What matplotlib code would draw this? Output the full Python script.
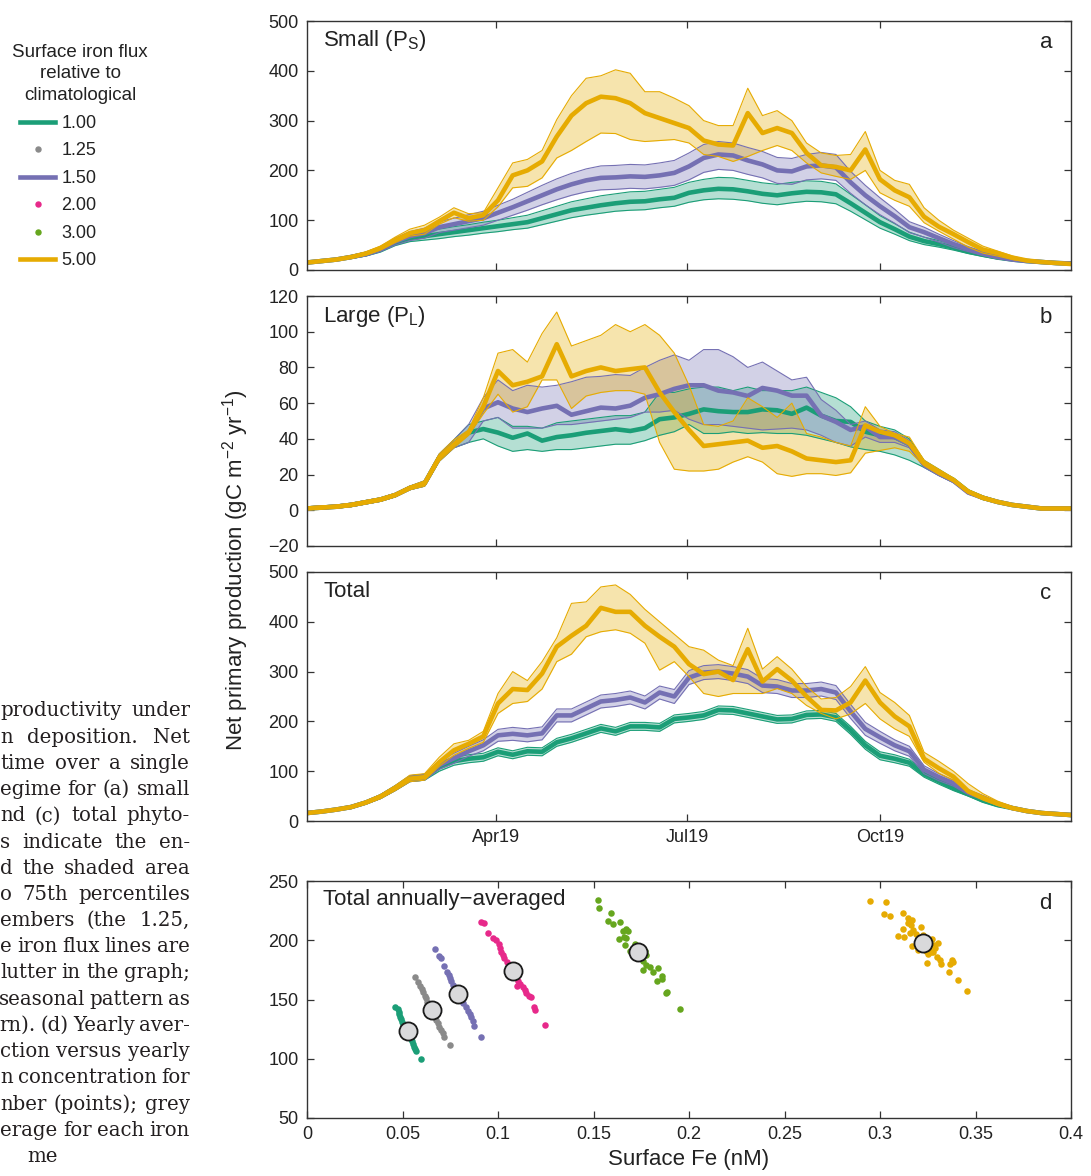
#!/usr/bin/env python
# -*- coding: utf-8 -*-
"""
Net primary production under different surface iron flux scenarios.
"""

import matplotlib
matplotlib.use('Agg')
from matplotlib import pyplot as plt
from matplotlib.lines import Line2D
import matplotlib.dates as mdates
import pandas as pd

plt.rcParams['font.family'] = ['Liberation Sans', 'DejaVu Sans']
plt.rcParams['mathtext.fontset'] = 'custom'
plt.rcParams['mathtext.rm'] = 'Liberation Sans'
plt.rcParams['axes.unicode_minus'] = True

# ---------------------------------------------------------------- data
# weekly samples over 2019 (53 points, 1 Jan -> 31 Dec)
DATES = pd.date_range('2019-01-01', periods=53, freq='7D')

# (a) small phytoplankton, gC m-2 yr-1
A_GREEN_MED = [15, 18, 21, 26, 32, 41, 55, 64, 68, 72, 76, 80, 84, 88, 92, 96, 104, 112, 120, 125, 130, 134, 137, 138, 142, 145,
               155, 160, 163, 162, 158, 153, 150, 154, 157, 156, 152, 134, 115, 96, 82, 67, 58, 52, 45, 37, 31, 25, 21, 18, 16, 14, 13]
A_GREEN_LO = [13, 16, 19, 23, 28, 36, 49, 57, 60, 63, 67, 70, 74, 77, 81, 84, 91, 98, 105, 110, 114, 118, 120, 121, 125, 128,
              136, 141, 143, 142, 139, 134, 131, 135, 138, 137, 133, 118, 101, 84, 72, 59, 51, 46, 40, 33, 27, 22, 19, 16, 14, 13, 12]
A_GREEN_HI = [17, 20, 23, 29, 36, 46, 62, 72, 77, 82, 87, 91, 96, 100, 105, 110, 119, 128, 137, 143, 149, 153, 157, 158, 162, 166,
              176, 182, 186, 185, 180, 175, 172, 176, 179, 178, 173, 152, 131, 109, 93, 76, 66, 59, 51, 42, 35, 28, 23, 20, 17, 15, 14]
A_PURPLE_MED = [15, 18, 21, 26, 32, 42, 57, 68, 74, 86, 92, 98, 104, 115, 126, 138, 150, 162, 172, 180, 185, 186, 188, 187, 190, 195,
                208, 225, 232, 230, 220, 212, 200, 198, 208, 210, 206, 176, 150, 128, 108, 86, 76, 64, 52, 42, 33, 26, 21, 18, 16, 14, 13]
A_PURPLE_LO = [13, 16, 19, 23, 28, 37, 50, 59, 64, 75, 80, 85, 90, 100, 110, 120, 131, 141, 150, 157, 161, 162, 164, 163, 166, 170,
               181, 196, 202, 200, 192, 185, 174, 172, 181, 183, 180, 154, 131, 111, 94, 75, 66, 56, 45, 37, 29, 23, 19, 16, 14, 13, 12]
A_PURPLE_HI = [17, 20, 23, 29, 36, 47, 64, 77, 84, 97, 104, 111, 118, 130, 142, 156, 170, 183, 194, 203, 209, 210, 212, 211, 215, 220,
               235, 252, 258, 255, 246, 238, 226, 224, 232, 236, 232, 198, 170, 145, 122, 97, 86, 72, 59, 47, 37, 29, 23, 20, 17, 15, 14]
A_YELLOW_MED = [15, 18, 21, 26, 33, 44, 60, 74, 80, 98, 115, 104, 110, 140, 190, 200, 218, 268, 310, 335, 348, 345, 335, 315, 305, 295,
                285, 260, 252, 250, 315, 275, 285, 275, 235, 210, 207, 200, 242, 182, 160, 146, 107, 87, 72, 56, 41, 34, 25, 19, 16, 14, 12]
A_YELLOW_LO = [14, 17, 20, 24, 30, 40, 55, 68, 72, 92, 105, 98, 100, 127, 165, 168, 185, 225, 240, 258, 275, 274, 262, 258, 260, 262,
               255, 232, 228, 218, 228, 240, 250, 240, 215, 195, 188, 182, 200, 155, 140, 128, 95, 78, 62, 46, 34, 28, 21, 17, 14, 13, 11]
A_YELLOW_HI = [16, 19, 22, 28, 36, 48, 66, 82, 90, 106, 125, 113, 115, 165, 215, 222, 240, 302, 350, 385, 390, 402, 395, 358, 358, 345,
               330, 300, 290, 290, 365, 310, 320, 300, 255, 235, 230, 232, 278, 200, 180, 172, 125, 100, 80, 64, 48, 38, 28, 21, 17, 15, 13]

# (b) large phytoplankton
B_GREEN_MED = [1, 1.5, 2, 3, 4.5, 6, 8.5, 12.5, 15, 29.5, 37, 43.5, 45.5, 43.5, 40.6, 43, 39, 41, 42, 43.4, 44.4, 45.4, 44.4, 46, 51, 52,
               54, 56.5, 55.5, 55, 55, 56.5, 56, 54, 57.5, 53, 50, 49.5, 44, 42, 41, 37, 26, 21, 17, 10.5, 7, 4.7, 3, 2, 1, 1, 1]
B_GREEN_LO = [0.3, 0.8, 1.2, 2, 3.5, 5, 7.5, 11.5, 13.5, 27.5, 35, 38, 40, 36, 33, 34, 33, 34, 34, 35, 36, 37, 37, 39, 42, 44,
              48, 43, 43, 44, 43, 43.5, 43, 43, 42, 40, 38, 35.5, 34, 33, 31, 28, 24, 19.5, 15.5, 9.5, 6, 4, 2.5, 1.5, 0.5, 0.5, 0.5]
B_GREEN_HI = [2, 2.5, 3, 4, 5.5, 7, 9.5, 13.5, 16.5, 31.5, 39.5, 48, 50, 52, 47, 47, 46, 49, 50, 51, 52, 53, 53, 55, 66, 66,
              68, 69, 69, 67, 69, 67, 67, 67, 69, 66, 63, 58, 50, 47, 45, 40, 28, 23, 18, 11.5, 8, 5.5, 3.5, 2.5, 1.5, 1.5, 1.5]
B_PURPLE_MED = [1, 1.5, 2, 3, 4.5, 6, 8.5, 12.5, 15, 29.5, 37, 43.5, 57, 60.5, 57, 55, 57, 58.5, 53.5, 55.5, 57.5, 57, 58.6, 63, 65, 68,
                70, 70, 67, 66, 64, 68.5, 67, 64.2, 64.2, 53, 49.5, 45, 47, 41, 41, 37, 25.5, 20.5, 16.5, 10, 7, 4.7, 3, 2, 1, 1, 1]
B_PURPLE_LO = [0.3, 0.8, 1.2, 2, 3.5, 5, 7.5, 11.5, 13.5, 27.5, 35, 38, 50, 52, 46, 46, 46, 48, 48, 49, 50, 51, 52, 55, 55, 56,
               51, 48, 48, 47, 46, 45, 45.5, 46, 45, 42, 38, 36, 41, 38, 38, 35, 24, 19.5, 15.5, 9, 6.5, 4, 2.5, 1.5, 0.5, 0.5, 0.5]
B_PURPLE_HI = [2, 2.5, 3, 4, 5.5, 7, 9.5, 13.5, 16.5, 31.5, 39.5, 48, 63, 73, 67, 70, 69, 70, 72, 74.5, 75, 76, 75.5, 80, 84, 87,
               84, 90, 90, 86, 80, 83, 78, 73, 74.5, 62, 56, 48, 50, 45, 44, 39, 27, 22, 17.5, 11, 7.5, 5, 3.5, 2.5, 1.5, 1.5, 1.5]
B_YELLOW_MED = [1, 1.5, 2, 3, 4.5, 6, 8.5, 12.5, 15, 29.5, 37, 43.5, 58, 78, 70, 72, 75, 93, 75, 78, 80, 78, 79, 80, 66, 55,
                45, 36, 37, 38, 39, 35, 36, 33, 29, 28, 27, 28, 47.5, 44, 42, 37.5, 26.5, 21.5, 17, 10.5, 7, 4.7, 3, 2, 1, 1, 1]
B_YELLOW_LO = [0.3, 0.8, 1.2, 2, 3.5, 5, 7.5, 11.5, 13.5, 27.5, 35, 42, 54, 65, 55, 58, 73, 73, 57, 64, 66, 67, 67, 65, 38, 23,
               22, 22, 23, 27, 30, 27, 20.5, 19, 20.5, 20.5, 19.5, 21, 32, 33.5, 35, 33, 25, 20, 16, 9.5, 6, 4, 2.5, 1.5, 0.5, 0.5, 0.5]
B_YELLOW_HI = [2, 2.5, 3, 4, 5.5, 7, 9.5, 13.5, 16.5, 31.5, 39.5, 45, 63, 88, 90, 83, 99, 111, 92, 95, 98, 104, 100, 104, 98, 88,
               70, 48, 47, 50, 63, 58, 52, 60, 43, 41, 38, 36, 58, 47, 43, 41, 28, 23, 18, 11.5, 8, 5.5, 3.5, 2.5, 1.5, 1.5, 1.5]

# (c) total
C_GREEN_MED = [16, 19, 23, 28, 37, 49, 66, 85, 88, 108, 120, 125, 128, 139, 133, 140, 139, 158, 166, 176, 186, 180, 190, 190, 188, 205,
               208, 212, 223, 222, 216, 210, 204, 205, 213, 214, 208, 182, 152, 131, 125, 117, 94, 80, 66, 54, 41, 32, 26, 20, 16, 14, 12]
C_GREEN_LO = [14, 17, 21, 25, 34, 45, 61, 79, 82, 100, 112, 117, 120, 131, 125, 132, 131, 150, 158, 168, 178, 172, 182, 182, 180, 197,
              200, 204, 215, 214, 208, 202, 196, 197, 205, 206, 200, 174, 144, 123, 117, 110, 88, 74, 61, 50, 38, 29, 24, 18, 14, 13, 11]
C_GREEN_HI = [18, 21, 25, 31, 40, 53, 71, 91, 94, 116, 128, 133, 136, 147, 141, 148, 147, 166, 174, 184, 194, 188, 198, 198, 196, 213,
              216, 220, 231, 230, 224, 218, 212, 213, 221, 222, 216, 190, 160, 139, 133, 124, 100, 86, 71, 58, 44, 35, 28, 22, 18, 15, 13]
C_PURPLE_MED = [16, 19, 23, 28, 37, 49, 66, 85, 88, 112, 126, 140, 152, 172, 175, 172, 176, 212, 212, 226, 240, 243, 248, 238, 258, 250,
                288, 298, 300, 296, 290, 272, 270, 262, 262, 265, 258, 220, 185, 168, 152, 140, 103, 88, 76, 58, 47, 35, 26, 20, 16, 14, 12]
C_PURPLE_LO = [14, 17, 21, 25, 34, 45, 61, 79, 82, 104, 116, 130, 141, 160, 162, 159, 163, 199, 199, 213, 227, 230, 235, 225, 245, 236,
               274, 284, 286, 282, 276, 258, 256, 248, 248, 251, 244, 206, 172, 156, 141, 130, 95, 81, 70, 53, 43, 32, 23, 18, 14, 13, 11]
C_PURPLE_HI = [18, 21, 25, 31, 40, 53, 71, 91, 94, 120, 136, 150, 163, 184, 188, 185, 189, 225, 225, 239, 253, 256, 261, 251, 271, 264,
               302, 312, 314, 310, 304, 286, 284, 276, 276, 279, 272, 234, 198, 180, 163, 150, 111, 95, 82, 63, 51, 38, 29, 22, 18, 15, 13]
C_YELLOW_MED = [16, 19, 23, 28, 37, 49, 66, 85, 88, 118, 142, 155, 170, 236, 265, 263, 296, 350, 372, 392, 428, 420, 420, 392, 370, 350,
                315, 295, 300, 283, 345, 280, 305, 282, 250, 223, 222, 238, 282, 238, 210, 190, 125, 106, 89, 60, 47, 35, 26, 20, 16, 14, 12]
C_YELLOW_LO = [15, 18, 22, 26, 34, 45, 61, 79, 82, 110, 132, 146, 158, 216, 236, 240, 265, 320, 335, 370, 380, 384, 377, 357, 303, 320,
               290, 256, 250, 256, 256, 256, 266, 256, 232, 216, 205, 215, 236, 205, 185, 170, 118, 96, 82, 56, 42, 31, 23, 18, 15, 13, 11]
C_YELLOW_HI = [17, 20, 24, 30, 40, 53, 71, 92, 95, 128, 155, 162, 180, 256, 300, 282, 320, 368, 437, 440, 470, 474, 455, 425, 400, 375,
               350, 343, 323, 312, 387, 305, 330, 305, 270, 245, 248, 270, 310, 258, 238, 212, 138, 120, 100, 75, 55, 40, 29, 22, 17, 15, 13]

# (d) annual mean surface Fe (nM) vs annual mean NPP, one point per ensemble member
FE_100 = [0.0463, 0.0475, 0.0480, 0.0484, 0.0489, 0.0493, 0.0496, 0.0501, 0.0506, 0.0511,
          0.0519, 0.0529, 0.0540, 0.0547, 0.0552, 0.0557, 0.0562, 0.0568, 0.0571, 0.0597]
NPP_100 = [143.9, 142.0, 139.7, 137.8, 135.5, 133.3, 131.3, 129.3, 127.1, 125.4,
           123.1, 120.9, 118.6, 116.4, 114.7, 112.4, 110.2, 108.0, 106.3, 99.5]
FE_125 = [0.0566, 0.0582, 0.0592, 0.0601, 0.0606, 0.0616, 0.0624, 0.0629, 0.0637,
          0.0658, 0.0667, 0.0676, 0.0685, 0.0693, 0.0704, 0.0711, 0.0719, 0.0749]
NPP_125 = [169.2, 164.5, 161.4, 158.9, 156.6, 153.2, 151.0, 148.2, 144.5,
           139.7, 136.1, 132.7, 129.9, 127.1, 124.3, 121.5, 118.6, 111.4]
FE_150 = [0.0669, 0.0690, 0.0699, 0.0716, 0.0734, 0.0741, 0.0749, 0.0755, 0.0767, 0.0777,
          0.0798, 0.0807, 0.0816, 0.0830, 0.0842, 0.0851, 0.0859, 0.0868, 0.0875, 0.0912]
NPP_150 = [192.6, 187.0, 184.7, 178.3, 173.5, 170.7, 167.9, 165.9, 162.2, 159.4,
           153.8, 149.6, 146.8, 143.9, 140.6, 137.8, 135.0, 132.1, 127.9, 118.4]
FE_200 = [0.0912, 0.0929, 0.0947, 0.0973, 0.0990, 0.1004, 0.1011, 0.1018, 0.1025, 0.1034,
          0.1046, 0.1064, 0.1078, 0.1092, 0.1104, 0.1113, 0.1130, 0.1140, 0.1148, 0.1160,
          0.1174, 0.1191, 0.1196, 0.1245, 0.1098]
NPP_200 = [215.1, 214.8, 205.8, 201.6, 200.2, 196.6, 193.2, 190.4, 187.6, 184.7,
           181.9, 178.3, 174.9, 169.2, 165.9, 163.1, 160.8, 158.0, 155.8, 153.0,
           151.8, 143.4, 141.1, 128.8, 161.4]
FE_300 = [0.1523, 0.1528, 0.1593, 0.1577, 0.1600, 0.1638, 0.1654, 0.1672, 0.1680, 0.1659,
          0.1672, 0.1633, 0.1663, 0.1715, 0.1724, 0.1693, 0.1741, 0.1768, 0.1773, 0.1759,
          0.1773, 0.1797, 0.1837, 0.1759, 0.1811, 0.1860, 0.1860, 0.1832, 0.1884, 0.1881, 0.1951]
NPP_300 = [234.0, 226.9, 223.0, 216.2, 213.4, 215.4, 208.1, 209.5, 207.8, 203.0,
           202.2, 201.1, 196.0, 196.6, 194.6, 190.9, 191.8, 190.9, 187.6, 182.5,
           179.1, 177.4, 176.3, 174.9, 172.9, 170.1, 167.0, 165.4, 156.6, 155.8, 142.0]
FE_500 = [0.2950, 0.3034, 0.3020, 0.3051, 0.3121, 0.3147, 0.3165, 0.3147, 0.3160, 0.3121,
          0.3174, 0.3217, 0.3156, 0.3186, 0.3095, 0.3128, 0.3226, 0.3270, 0.3305, 0.3282,
          0.3168, 0.3200, 0.3240, 0.3252, 0.3266, 0.3287, 0.3296, 0.3313, 0.3319, 0.3244,
          0.3362, 0.3375, 0.3380, 0.3366, 0.3409, 0.3457, 0.3256, 0.3278]
NPP_500 = [233.4, 232.6, 222.2, 220.5, 222.7, 219.1, 217.1, 214.8, 212.9, 209.5,
           208.6, 210.9, 206.4, 205.0, 203.6, 202.5, 204.4, 201.1, 197.4, 196.0,
           195.1, 191.8, 191.2, 188.1, 189.8, 193.2, 186.2, 183.3, 179.7, 181.1,
           172.9, 183.3, 181.4, 180.2, 166.2, 157.4, 194.6, 190.4]
MEAN_FE = [0.0527, 0.0655, 0.0791, 0.1078, 0.1733, 0.3226]
MEAN_NPP = [123.7, 140.9, 154.6, 174.1, 189.8, 198.0]

FLUX_LABELS = ['1.00', '1.25', '1.50', '2.00', '3.00', '5.00']

CAPTION = ['productivity under', 'n deposition. Net', 'time over a single', 'egime for (a) small',
           'nd (c) total phyto-', 's indicate the en-', 'd the shaded area', 'o 75th percentiles',
           'embers (the 1.25,', 'e iron flux lines are', 'lutter in the graph;', 'seasonal pattern as',
           'rn). (d) Yearly aver-', 'ction versus yearly', 'n concentration for', 'nber (points); grey',
           'erage for each iron', 'me']

# ---------------------------------------------------------------- style
GREEN = '#1b9e77'
GREY = '#8a8a8a'
PURPLE = '#7570b3'
PINK = '#e7298a'
LIME = '#66a61e'
YELLOW = '#e6ab02'
INK = '#222222'

W, H = 1091, 1176
fig = plt.figure(figsize=(W / 100, H / 100), dpi=100)


def px_axes(left, top, right, bottom):
    return fig.add_axes([left / W, 1 - bottom / H, (right - left) / W, (bottom - top) / H])


def style_axes(ax):
    for s in ax.spines.values():
        s.set_color('#333333')
        s.set_linewidth(1.0)
    ax.tick_params(direction='in', top=True, right=True, length=5, width=0.9,
                   labelsize=13, colors='#333333', labelcolor=INK, pad=6)


def draw_band(ax, lo, med, hi, color):
    ax.fill_between(DATES, lo, hi, color=color, alpha=0.32, lw=0)
    ax.plot(DATES, lo, color=color, lw=0.8)
    ax.plot(DATES, hi, color=color, lw=0.8)
    ax.plot(DATES, med, color=color, lw=3.3, solid_capstyle='round')


def time_panel(top, bottom, series, ylim, yticks, name, letter, show_dates):
    ax = px_axes(307, top, 1071, bottom)
    for lo, med, hi, col in series:
        draw_band(ax, lo, med, hi, col)
    ax.set_xlim(pd.Timestamp('2019-01-01'), pd.Timestamp('2019-12-31'))
    ax.set_ylim(*ylim)
    ax.set_yticks(yticks)
    ax.set_xticks([pd.Timestamp('2019-04-01'), pd.Timestamp('2019-07-01'), pd.Timestamp('2019-10-01')])
    ax.xaxis.set_major_formatter(mdates.DateFormatter('%b%y'))
    if not show_dates:
        ax.tick_params(labelbottom=False)
    style_axes(ax)
    ax.text(0.021, 0.92, name, transform=ax.transAxes, fontsize=16, color=INK, va='center', ha='left')
    ax.text(0.967, 0.915, letter, transform=ax.transAxes, fontsize=16, color=INK, va='center', ha='center')
    return ax


time_panel(21, 270, [(A_GREEN_LO, A_GREEN_MED, A_GREEN_HI, GREEN),
                     (A_PURPLE_LO, A_PURPLE_MED, A_PURPLE_HI, PURPLE),
                     (A_YELLOW_LO, A_YELLOW_MED, A_YELLOW_HI, YELLOW)],
           (0, 500), range(0, 501, 100), 'Small (P$_\\mathregular{S}$)', 'a', False)
time_panel(296, 546, [(B_GREEN_LO, B_GREEN_MED, B_GREEN_HI, GREEN),
                      (B_PURPLE_LO, B_PURPLE_MED, B_PURPLE_HI, PURPLE),
                      (B_YELLOW_LO, B_YELLOW_MED, B_YELLOW_HI, YELLOW)],
           (-20, 120), range(-20, 121, 20), 'Large (P$_\\mathregular{L}$)', 'b', False)
time_panel(572, 821, [(C_GREEN_LO, C_GREEN_MED, C_GREEN_HI, GREEN),
                      (C_PURPLE_LO, C_PURPLE_MED, C_PURPLE_HI, PURPLE),
                      (C_YELLOW_LO, C_YELLOW_MED, C_YELLOW_HI, YELLOW)],
           (0, 500), range(0, 501, 100), 'Total', 'c', True)

# panel d
axd = px_axes(307, 881, 1071, 1118)
groups = [(FE_100, NPP_100, GREEN), (FE_125, NPP_125, GREY), (FE_150, NPP_150, PURPLE),
          (FE_200, NPP_200, PINK), (FE_300, NPP_300, LIME), (FE_500, NPP_500, YELLOW)]
for fe, npp, col in groups:
    axd.scatter(fe, npp, s=22, color=col, lw=0, zorder=2)
axd.scatter(MEAN_FE, MEAN_NPP, s=170, facecolor='#d9d9db', edgecolor='#1a1a1a', lw=1.3, zorder=3)
axd.set_xlim(0, 0.4)
axd.set_ylim(50, 250)
axd.set_xticks([i * 0.05 for i in range(9)])
axd.set_yticks(range(50, 251, 50))
axd.xaxis.set_major_formatter(plt.FuncFormatter(lambda v, p: '%g' % round(v, 2)))
style_axes(axd)
axd.set_xlabel('Surface Fe (nM)', fontsize=16, color=INK, labelpad=4)
axd.text(0.021, 0.922, 'Total annually\u2212averaged', transform=axd.transAxes, fontsize=16,
         color=INK, va='center', ha='left')
axd.text(0.967, 0.905, 'd', transform=axd.transAxes, fontsize=16, color=INK, va='center', ha='center')

# shared y label
fig.text(236 / W, 1 - 570 / H, 'Net primary production (gC m$^{\\mathregular{-2}}$ yr$^{\\mathregular{-1}}$)',
         rotation=90, ha='center', va='center', fontsize=16, color=INK)

# legend
fig.text(80 / W, 1 - 74 / H, 'Surface iron flux\nrelative to\nclimatological', ha='center', va='center',
         fontsize=13.5, color=INK, linespacing=1.32)
handles = [Line2D([], [], color=GREEN, lw=3.3),
           Line2D([], [], ls='none', marker='o', ms=3.6, color=GREY),
           Line2D([], [], color=PURPLE, lw=3.3),
           Line2D([], [], ls='none', marker='o', ms=3.6, color=PINK),
           Line2D([], [], ls='none', marker='o', ms=3.6, color=LIME),
           Line2D([], [], color=YELLOW, lw=3.3)]
leg = fig.legend(handles, FLUX_LABELS, loc='upper left', bbox_to_anchor=(20 / W, 1 - 115 / H),
                 frameon=False, fontsize=13, handlelength=1.95, handletextpad=0.35,
                 labelspacing=0.58, borderpad=0, borderaxespad=0)
for t in leg.get_texts():
    t.set_color(INK)

# clipped, justified caption column from the page (left edge cut at x = 0)
renderer = fig.canvas.get_renderer()
for i, line in enumerate(CAPTION):
    y = 1 - (711 + i * 26.2) / H
    if i == len(CAPTION) - 1:
        fig.text(27 / W, y, line, ha='left', va='center', fontsize=14.2, family='DejaVu Serif', color='#231f20')
        continue
    words = line.split(' ')
    texts = [fig.text(0, y, w, ha='left', va='center', fontsize=14.2, family='DejaVu Serif', color='#231f20')
             for w in words]
    widths = [t.get_window_extent(renderer).width for t in texts]
    gap = max((190 - sum(widths)) / max(len(words) - 1, 1), 4.5)
    x = 190 - sum(widths) - gap * (len(words) - 1)
    for t, w in zip(texts, widths):
        t.set_x(x / W)
        x += w + gap

fig.savefig('out.png', dpi=100)
